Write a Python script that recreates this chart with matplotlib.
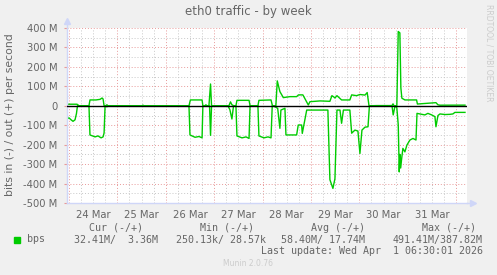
import matplotlib

matplotlib.use('Agg')
import matplotlib.pyplot as plt
from matplotlib.ticker import MultipleLocator, FixedLocator

# hours since 24 Mar 00:00 -> traffic in Mbit/s
out_h = [-1.0, 4.0, 5.0, 9.9, 10.4, 13.4, 15.4, 16.4, 16.9, 17.4, 18.3, 18.8, 19.3,
         36.2, 36.7, 37.2, 59.5, 60.2, 66.0, 66.4, 67.4, 67.9, 68.4, 69.4, 70.2, 70.7,
         79.3, 80.1, 80.8, 81.8, 82.8, 83.3, 89.3, 89.8, 93.7, 94.2, 100.2, 100.9,
         102.6, 103.3, 104.6, 106.3, 109.6, 112.9, 113.8, 116.0, 118.7, 119.5, 124.5,
         129.4, 130.4, 131.4, 131.9, 132.9, 135.2, 139.3, 140.2, 142.6, 144.3, 146.8,
         147.9, 148.8, 149.3, 152.7, 160.2, 160.7, 161.2, 162.6, 163.3, 164.1, 164.6,
         165.1, 166.6, 172.4, 172.8, 182.0, 183.0, 184.0, 196.4]
out_m = [8, 8, 0, 0, 30, 30, 33, 40, 35, 0, 0, 5, 0,
         0, 3, 0, 0, 30, 30, 0, 0, 5, 0, 0, 112, 0,
         0, 20, 5, 0, 0, 28, 28, 0, 0, 28, 30, 0,
         0, 128, 73, 42, 47, 47, 56, 56, 4, 21, 25,
         23, 52, 45, 40, 52, 30, 30, 56, 52, 58, 55,
         68, 0, 0, 1, 1, 10, 0, 0, 382, 375, 92,
         39, 30, 30, 9, 16, 5, 3, 3.36]

in_h = [-1.0, 0.0, 1.0, 2.0, 3.0, 3.7, 4.2, 9.9, 10.4, 12.9, 14.4, 15.9, 16.9, 17.4,
        17.9, 18.8, 19.3, 43.1, 43.6, 44.1, 59.5, 60.0, 62.5, 64.5, 66.0, 66.4, 69.7,
        70.2, 70.7, 78.8, 79.8, 80.8, 81.6, 82.8, 83.3, 85.8, 87.8, 89.3, 89.8, 93.7,
        94.2, 96.7, 98.7, 100.2, 100.8, 102.1, 103.5, 104.6, 105.1, 107.1, 107.6,
        112.9, 113.7, 115.4, 115.7, 117.9, 128.4, 129.4, 130.9, 131.9, 132.9, 134.4,
        135.2, 136.1, 139.3, 140.2, 141.8, 143.3, 144.3, 145.3, 146.8, 148.3, 149.0,
        160.2, 160.8, 161.7, 162.6, 163.3, 163.8, 164.1, 164.5, 165.0, 165.6, 166.6,
        167.6, 169.1, 170.6, 172.1, 172.6, 174.0, 176.5, 178.0, 179.9, 181.5, 182.0,
        183.0, 184.0, 186.5, 188.9, 190.4, 191.4, 196.4]
in_m = [-68, -62, -72, -80, -72, -40, 0, 0, -150, -160, -155, -165, -160, -140,
        0, -5, 0, 0, -3, 0, 0, -150, -162, -158, -165, 0, 0,
        -152, 0, 0, -20, -68, 0, 0, -155, -165, -160, -168, 0, 0,
        -155, -165, -160, -165, 0, -5, -13, -116, -22, -13, -150,
        -150, -99, -99, -142, -22, -22, -380, -425, -375, -22, -22,
        -90, -22, -22, -141, -125, -130, -245, -125, -110, -108, 0,
        0, -47, 0, -10, -99, -340, -250, -320, -271, -219, -237,
        -202, -176, -168, -176, -39, -42, -47, -39, -47, -56, -108,
        -50, -42, -45, -44, -42, -34, -34]

day_labels = ['24 Mar', '25 Mar', '26 Mar', '27 Mar', '28 Mar', '29 Mar', '30 Mar', '31 Mar']
y_ticks = [-500, -400, -300, -200, -100, 0, 100, 200, 300, 400]

W, H = 497, 275
FONT = '#666666'
GREEN = '#00CC00'
AXIS = '#CFD6F8'

fig = plt.figure(figsize=(W / 100, H / 100), dpi=100, facecolor='#F0F0F0')
ax = fig.add_axes([67 / W, 1 - 203 / H, 400 / W, 175 / H])
ax.set_facecolor('white')

ax.plot(out_h, out_m, color=GREEN, lw=1.0, zorder=2)
ax.plot(in_h, in_m, color=GREEN, lw=1.0, zorder=2)
ax.axhline(0, color='black', lw=1.0, zorder=3)

ax.set_xlim(-0.99, 197.4)
ax.set_ylim(-500, 400)

# grid: red dotted at days / 100M, grey dotted at 6h / 50M
ax.xaxis.set_major_locator(MultipleLocator(24))
ax.xaxis.set_minor_locator(MultipleLocator(6))
ax.yaxis.set_major_locator(FixedLocator(y_ticks))
ax.yaxis.set_minor_locator(MultipleLocator(50))
ax.grid(which='minor', color='#C8C8C8', lw=0.7, ls=(0, (1, 2)))
ax.grid(which='major', color='#E89A9A', lw=0.7, ls=(0, (1, 2)))
ax.set_axisbelow(True)

ax.set_xticklabels([])
ax.set_yticklabels([f'{v} M' if v else '0' for v in y_ticks])
ax.tick_params(axis='x', which='both', length=0)
ax.tick_params(axis='y', which='major', length=2, color='#E89A9A', pad=5,
               labelsize=7.2, labelcolor=FONT)
ax.tick_params(axis='y', which='minor', length=0)
# day labels sit at noon, between the midnight grid lines
for i, lab in enumerate(day_labels):
    ax.text(i * 24 + 12, -535, lab, ha='center', va='top', fontsize=7.2, color=FONT)

for s in ['top', 'right']:
    ax.spines[s].set_visible(False)
for s in ['left', 'bottom']:
    ax.spines[s].set_color(AXIS)
    ax.spines[s].set_linewidth(1.0)

# axis arrows
fig.add_artist(plt.Line2D([67 / W, 67 / W], [1 - 28 / H, 1 - 21 / H], color=AXIS, lw=1))
fig.add_artist(plt.Line2D([467 / W, 473 / W], [1 - 203 / H, 1 - 203 / H], color=AXIS, lw=1))
fig.add_artist(plt.Line2D([67 / W], [1 - 21 / H], marker='^', ms=4, color=AXIS, mec=AXIS))
fig.add_artist(plt.Line2D([473 / W], [1 - 203 / H], marker='>', ms=4, color=AXIS, mec=AXIS))

fig.text(248 / W, 1 - 12 / H, 'eth0 traffic - by week', ha='center', va='center',
         fontsize=8.5, color=FONT)
fig.text(10 / W, 1 - 115 / H, 'bits in (-) / out (+) per second', rotation=90,
         ha='center', va='center', fontsize=7.8, color=FONT)
fig.text(489 / W, 1 - 53 / H, 'RRDTOOL / TOBI OETIKER', rotation=270,
         ha='center', va='center', fontsize=5.5, color='#CCCCCC')

mono = dict(family='DejaVu Sans Mono', fontsize=7.2, color=FONT, va='center')
hy = 1 - 228 / H
fig.text(116 / W, hy, 'Cur (-/+)', ha='center', **mono)
fig.text(227 / W, hy, 'Min (-/+)', ha='center', **mono)
fig.text(338 / W, hy, 'Avg (-/+)', ha='center', **mono)
fig.text(449 / W, hy, 'Max (-/+)', ha='center', **mono)

ry = 1 - 239.5 / H
fig.patches.append(plt.Rectangle((14 / W, 1 - 242.5 / H), 6 / W, 6 / H,
                                 transform=fig.transFigure, color=GREEN, figure=fig))
fig.text(27 / W, ry, 'bps', ha='left', **mono)
fig.text(158 / W, ry, '32.41M/  3.36M', ha='right', **mono)
fig.text(266 / W, ry, '250.13k/ 28.57k', ha='right', **mono)
fig.text(365 / W, ry, '58.40M/ 17.74M', ha='right', **mono)
fig.text(483 / W, ry, '491.41M/387.82M', ha='right', **mono)
fig.text(483 / W, 1 - 251 / H, 'Last update: Wed Apr  1 06:30:01 2026', ha='right', **mono)

fig.text(248 / W, 1 - 264 / H, 'Munin 2.0.76', ha='center', va='center',
         fontsize=5.5, color='#CCCCCC')

fig.savefig('out.png', dpi=100, facecolor=fig.get_facecolor())
